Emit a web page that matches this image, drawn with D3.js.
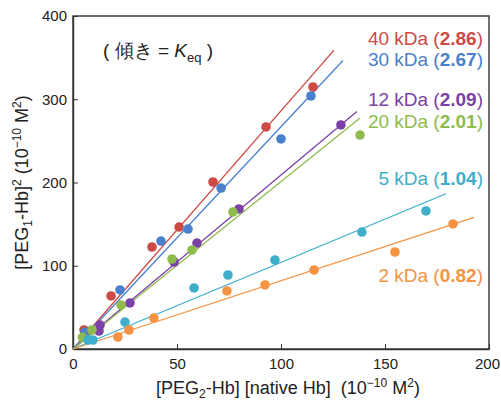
<!DOCTYPE html>
<html>
<head>
<meta charset="utf-8">
<script src="https://cdn.jsdelivr.net/npm/d3@7"></script>
<style>
  body { margin: 0; background: #fff; }
  svg { font-family: "Liberation Sans", Arial, sans-serif; }
</style>
</head>
<body>
<svg width="501" height="402"></svg>
<script>
// series: name, slope (Keq), colour
const names = ["40 kDa", "30 kDa", "12 kDa", "20 kDa", "5 kDa", "2 kDa"];
const slopes = [2.86, 2.67, 2.09, 2.01, 1.04, 0.82];
const colors = ["#cd4a45", "#4a80cc", "#7c41a6", "#8fbb4d", "#3eaecb", "#f59343"];

// points [x, y]
const pts40 = [[5.3, 22.8], [18.3, 63.7], [38.0, 122.5], [51.0, 146.5], [67.3, 200.6], [92.8, 266.7], [115.4, 314.7]];
const pts30 = [[5.8, 20.4], [22.6, 70.9], [42.3, 129.7], [55.3, 144.1], [71.2, 193.4], [100.0, 252.3], [114.4, 303.9]];
const pts12 = [[12.5, 21.6], [13.0, 28.8], [27.4, 55.3], [48.6, 104.5], [59.6, 127.3], [79.8, 168.2], [128.8, 269.1]];
const pts20 = [[4.5, 14.0], [9.1, 22.8], [23.1, 52.9], [47.6, 108.1], [57.2, 118.9], [76.9, 164.6], [138.0, 257.0]];
const pts5 = [[7.2, 10.8], [9.6, 10.8], [25.0, 32.4], [58.2, 73.3], [74.5, 88.9], [97.1, 106.9], [138.9, 140.5], [169.7, 165.8]];
const pts2 = [[21.6, 14.4], [26.9, 22.8], [38.9, 37.2], [74.0, 69.7], [92.3, 76.9], [115.9, 94.9], [154.8, 116.5], [182.7, 150.2]];
const allPts = [pts40, pts30, pts12, pts20, pts5, pts2];
// end x of each fit line
const lineEnds = [125.5, 129.8, 136.5, 138.0, 179.3, 192.8];

const xTicks = [0, 50, 100, 150, 200];
const yTicks = [0, 100, 200, 300, 400];

const margin = {top: 16, right: 12, bottom: 53, left: 73};
const width = 501, height = 402;
const svg = d3.select("svg");

const x = d3.scaleLinear().domain([0, 200]).range([margin.left, width - margin.right]);
const y = d3.scaleLinear().domain([0, 400]).range([height - margin.bottom, margin.top]);

// frame
svg.append("rect")
    .attr("x", x(0)).attr("y", y(400))
    .attr("width", x(200) - x(0)).attr("height", y(0) - y(400))
    .attr("fill", "none").attr("stroke", "#333").attr("stroke-width", 1.4);

// axes with inward ticks
const xAxis = svg.append("g").attr("transform", `translate(0,${y(0)})`)
    .call(d3.axisBottom(x).tickValues(xTicks).tickSizeInner(-5).tickSizeOuter(0).tickPadding(9));
const yAxis = svg.append("g").attr("transform", `translate(${x(0)},0)`)
    .call(d3.axisLeft(y).tickValues(yTicks).tickSizeInner(-5).tickSizeOuter(0).tickPadding(6));
[xAxis, yAxis].forEach(g => {
    g.select(".domain").attr("stroke", "#333").attr("stroke-width", 1.4);
    g.selectAll(".tick line").attr("stroke", "#333");
    g.selectAll("text").attr("font-size", 15).attr("fill", "#222")
        .attr("font-family", "Liberation Sans, Arial, sans-serif");
});
// keep the last x label inside the window
xAxis.selectAll(".tick text").filter(d => d === 200).attr("dx", -2);

// fit lines
const line = d3.line().x(d => x(d[0])).y(d => y(d[1]));
slopes.forEach((k, i) => {
    svg.append("path")
        .attr("d", line([[0, 0], [lineEnds[i], k * lineEnds[i]]]))
        .attr("stroke", colors[i]).attr("stroke-width", 1.3).attr("fill", "none");
});

// points
allPts.forEach((pts, i) => {
    svg.append("g").selectAll("circle")
        .data(pts)
        .enter()
        .append("circle")
        .attr("cx", d => x(d[0]))
        .attr("cy", d => y(d[1]))
        .attr("r", 4.8)
        .attr("fill", colors[i]);
});

// labels on the right
const labelY = [45, 66, 106, 128, 185, 282];
names.forEach((n, i) => {
    const t = svg.append("text")
        .attr("x", 483).attr("y", labelY[i])
        .attr("text-anchor", "end")
        .attr("font-size", 19)
        .attr("fill", colors[i]);
    t.append("tspan").text(n + " (");
    t.append("tspan").attr("font-weight", "bold").text(slopes[i].toFixed(2));
    t.append("tspan").text(")");
});

// slope note
const note = svg.append("text").attr("x", 103).attr("y", 57).attr("font-size", 19).attr("fill", "#222");
note.append("tspan").text("( 傾き = ");
note.append("tspan").attr("font-style", "italic").text("K");
note.append("tspan").attr("font-size", 13).attr("dy", 5).text("eq");
note.append("tspan").attr("dy", -5).text(" )");

// x axis title
const xt = svg.append("text").attr("x", 288).attr("y", 394)
    .attr("text-anchor", "middle").attr("font-size", 18).attr("fill", "#222");
xt.append("tspan").text("[PEG");
xt.append("tspan").attr("font-size", 12).attr("dy", 4).text("2");
xt.append("tspan").attr("dy", -4).text("-Hb] [native Hb]\u00a0\u00a0(10");
xt.append("tspan").attr("font-size", 12).attr("dy", -7).text("−10");
xt.append("tspan").attr("dy", 7).text(" M");
xt.append("tspan").attr("font-size", 12).attr("dy", -7).text("2");
xt.append("tspan").attr("dy", 7).text(")");

// y axis title
const yt = svg.append("text")
    .attr("transform", `translate(28,${(y(0) + y(400)) / 2}) rotate(-90)`)
    .attr("text-anchor", "middle").attr("font-size", 18).attr("fill", "#222");
yt.append("tspan").text("[PEG");
yt.append("tspan").attr("font-size", 12).attr("dy", 4).text("1");
yt.append("tspan").attr("dy", -4).text("-Hb]");
yt.append("tspan").attr("font-size", 12).attr("dy", -7).text("2");
yt.append("tspan").attr("dy", 7).text(" (10");
yt.append("tspan").attr("font-size", 12).attr("dy", -7).text("−10");
yt.append("tspan").attr("dy", 7).text(" M");
yt.append("tspan").attr("font-size", 12).attr("dy", -7).text("2");
yt.append("tspan").attr("dy", 7).text(")");
</script>
</body>
</html>
